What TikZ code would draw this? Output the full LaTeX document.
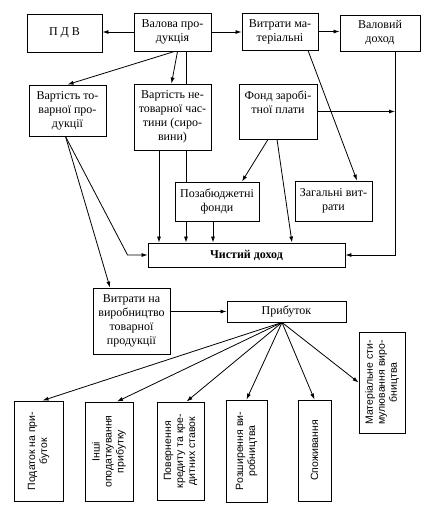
\documentclass[tikz,border=0pt]{standalone}
\usepackage{fontspec}
\setmainfont{Liberation Serif}
\newfontfamily\rotsans{Liberation Sans}
\usetikzlibrary{arrows.meta,calc}

\begin{document}
\begin{tikzpicture}[
  x=1pt, y=-1pt,
  font=\fontsize{12}{14}\selectfont,
  box/.style={draw, line width=0.9pt, align=center, inner sep=2pt, fill=white},
  vbox/.style={box, rotate=90, font=\rotsans\fontsize{10.5}{12}\selectfont},
  arr/.style={-{Latex[length=6pt,width=4pt]}, line width=0.8pt},
  ln/.style={line width=0.8pt}
]
\useasboundingbox (0,0) rectangle (429,515);
\node[box, minimum width=75pt, minimum height=38pt] (pdv) at (64.5,33) {П Д В};
\node[box, minimum width=77pt, minimum height=38pt] (val) at (172.5,32) {Валова про-\\дукція};
\node[box, minimum width=76pt, minimum height=37pt] (mat) at (280,31.5) {Витрати ма-\\теріальні};
\node[box, minimum width=80pt, minimum height=36pt] (vd) at (380,33) {Валовий\\доход};
\node[box, minimum width=77pt, minimum height=51pt] (tov) at (67.5,110.5) {Вартість то-\\варної про-\\дукції};
\node[box, minimum width=77pt, minimum height=66pt] (netov) at (172.5,117) {Вартість не-\\товарної час-\\тини (сиро-\\вини)};
\node[box, minimum width=78pt, minimum height=55pt] (fzp) at (278,111.5) {Фонд заробі-\\тної плати\\\strut};
\node[box, minimum width=84pt, minimum height=39pt] (pozab) at (217,201.5) {Позабюджетні\\фонди};
\node[box, minimum width=77pt, minimum height=40pt] (zag) at (333.5,201) {Загальні вит-\\рати};
\node[box, minimum width=197pt, minimum height=24pt] (chd) at (246.5,255) {\textbf{Чистий доход}};
\node[box, minimum width=77pt, minimum height=66pt] (vyr) at (131.5,321) {Витрати на\\виробництво\\товарної\\продукції};
\node[box, minimum width=119pt, minimum height=21pt] (prib) at (286.5,311.5) {Прибуток};
\node[vbox, minimum width=100pt, minimum height=49pt] (b1) at (38.5,451) {Податок на при-\\буток};
\node[vbox, minimum width=99pt, minimum height=48pt] (b2) at (109,451.5) {Інші\\оподаткування\\прибутку};
\node[vbox, minimum width=98pt, minimum height=47pt] (b3) at (180.5,451) {Повернення\\кредиту та кре-\\дитних ставок};
\node[vbox, minimum width=102pt, minimum height=41pt] (b4) at (246.5,451) {Розширення ви-\\робництва};
\node[vbox, minimum width=101pt, minimum height=33pt] (b5) at (314.5,450.5) {Споживання};
\node[vbox, minimum width=101pt, minimum height=46pt] (b6) at (382,382.5) {Матеріальне сти-\\мулювання виро-\\бництва};

\coordinate (vdc) at ([xshift=15pt]vd.south);
\coordinate (tk) at ($(chd.west)+(-20,0)$);
\coordinate (fan) at ([xshift=-4.5pt]prib.south);

\draw[arr] (val.west) -- (val.west -| pdv.east);
\draw[arr] (val.east) -- (val.east -| mat.west);
\draw[arr] (mat.east) -- (mat.east -| vd.west);
\draw[arr] ([xshift=2pt]val.south) -- (tov.north);
\draw[arr] ([xshift=5pt]val.south) -- ([xshift=-1pt]netov.north);
\draw[ln] ([xshift=13.5pt]val.south) -- ([xshift=13.5pt]netov.north);
\draw[ln] ([xshift=13.5pt]netov.south) -- ([xshift=13.5pt]netov.south |- pozab.north);
\draw[arr] ([xshift=-13.5pt]netov.south) -- ([xshift=-13.5pt]netov.south |- chd.north);
\draw[arr] ([xshift=-31pt]pozab.south) -- ([xshift=-31pt]pozab.south |- chd.north);
\draw[arr] ([xshift=-4pt]pozab.south) -- ([xshift=-4pt]pozab.south |- chd.north);
\draw[arr] ([xshift=-10pt]fzp.south) -- ([xshift=25pt]pozab.north);
\draw[arr] ([xshift=-1pt]fzp.south) -- ([xshift=45.5pt]chd.north);
\draw[arr] (fzp.east) -- (fzp.east -| vdc);
\draw[arr] (vdc) |- (chd.east);
\draw[arr] ([xshift=28pt]mat.south) -- ([xshift=23.5pt]zag.north);
\draw[arr] ([xshift=-2pt]tov.south) -- (tk) -- (chd.west);
\draw[arr] ([xshift=-2pt]tov.south) -- ([xshift=-21.5pt]vyr.north);
\draw[arr] (prib.west -| vyr.east) -- (prib.west);
\draw[arr] (fan) -- ([xshift=4pt]b1.east);
\draw[arr] (fan) -- ([xshift=8pt]b2.east);
\draw[arr] (fan) -- ([xshift=6pt]b3.east);
\draw[arr] (fan) -- (b4.east);
\draw[arr] (fan) -- (b5.east);
\draw[arr] (fan) -- (b6.north);
\end{tikzpicture}
\end{document}
